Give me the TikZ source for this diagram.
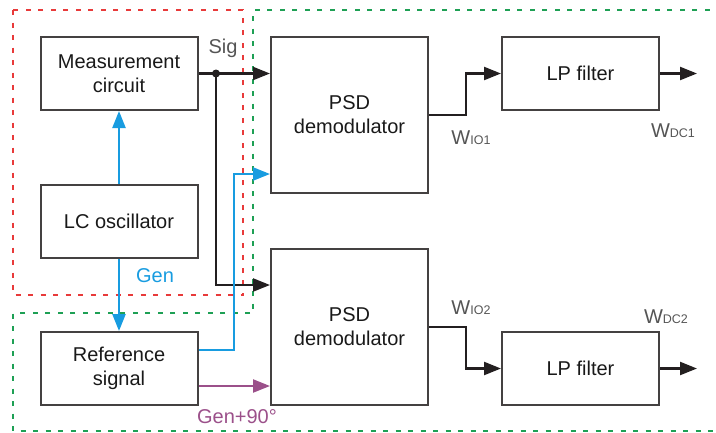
\documentclass[tikz,border=0pt]{standalone}
\usepackage{fontspec}
\setmainfont{Liberation Sans}
\usepackage{tikz}
\usetikzlibrary{arrows.meta,calc,positioning}

\definecolor{zonered}{RGB}{232,58,58}
\definecolor{zonegreen}{RGB}{30,160,85}
\definecolor{genblue}{RGB}{24,156,224}
\definecolor{genpurple}{RGB}{155,80,138}
\definecolor{labelgray}{RGB}{85,85,85}
\definecolor{wire}{RGB}{35,31,32}

\newcommand{\wsub}[1]{W{\fontsize{12.5}{12}\selectfont #1}}

\begin{document}
\begin{tikzpicture}[x=1pt,y=-1pt,line cap=butt,
    line join=miter,
    font=\fontsize{20}{23}\selectfont,
    block/.style={draw=wire!85,line width=2pt,rectangle,
      minimum width=157pt,inner sep=0pt,align=center,text=black!90},
    shortblock/.style={block,minimum height=73pt},
    tallblock/.style={block,minimum height=156pt},
    sigline/.style={draw=wire,line width=2.3pt,
      -{Triangle[length=17pt,width=13pt]}},
    genline/.style={sigline,draw=genblue,
      -{Triangle[length=17pt,width=13pt,fill=genblue]}},
    shiftline/.style={sigline,draw=genpurple,
      -{Triangle[length=17pt,width=13pt,fill=genpurple]}},
    zone/.style={line width=2.2pt,dash pattern=on 5pt off 7.5pt},
    wlabel/.style={text=labelgray}]
    \useasboundingbox (0,0) rectangle (716,432);

    % The two dotted zones behind the blocks.
    \draw[zone,draw=zonered] (13,10) rectangle (243,295);
    \begin{scope}
      \clip (0,0) rectangle (716,432);
      \draw[zone,draw=zonegreen] (722,10) -- (253,10) -- (253,313)
        -- (13,313) -- (13,431) -- (722,431);
    \end{scope}

    % Left column.
    \node[shortblock] (meas) at (119,73.5) {Measurement\\[1pt]circuit};
    \node[shortblock] (lc) at (119,221) {LC oscillator};
    \node[shortblock] (ref) at (119,368.5) {Reference\\[1pt]signal};

    % Demodulators and filters.
    \node[tallblock] (psdA) at (349.5,115) {PSD\\[1pt]demodulator};
    \node[tallblock] (psdB) at (349.5,327) {PSD\\[1pt]demodulator};
    \node[shortblock] (lpA) at (580.5,73.5) {LP filter};
    \node[shortblock] (lpB) at (580.5,368.5) {LP filter};

    % Measured signal to both demodulators.
    \coordinate (sigdot) at (216,73.5);
    \coordinate (sigB) at ($(psdB.north west)+(0,37)$);
    \draw[sigline] (meas.east) -- (meas.east -| psdA.west);
    \draw[sigline] (sigdot) |- (sigB);
    \fill[wire] (sigdot) circle (4pt);
    \node[wlabel] (sig) at (223,48) {Sig};

    % Generator and reference signals.
    \draw[genline] (lc) -- (meas);
    \draw[genline] (lc) -- (ref);
    \node[text=genblue] (gen) at (155,276) {Gen};
    \coordinate (refA) at ($(ref.east)+(0,-18.5)$);
    \coordinate (inA) at ($(psdA.west)+(0,59)$);
    \draw[genline] (refA) -| ($(inA)+(-36,0)$) -- (inA);
    \coordinate (refB) at ($(ref.east)+(0,17.5)$);
    \draw[shiftline] (refB) -- (refB -| psdB.west);
    \node[text=genpurple] (shift) at (237,417) {Gen+90°};

    % Demodulator outputs through the filters.
    \draw[sigline] (psdA.east) -- ++(37,0) |- (lpA.west);
    \draw[sigline] (psdB.east) -- ++(37,0) |- (lpB.west);
    \coordinate[right=37pt of lpA.east] (outA);
    \coordinate[right=37pt of lpB.east] (outB);
    \draw[sigline] (lpA) -- (outA);
    \draw[sigline] (lpB) -- (outB);

    \node[wlabel] (wioA) at (471,138) {\wsub{IO1}};
    \node[wlabel] (wdcA) at (673,131) {\wsub{DC1}};
    \node[wlabel] (wioB) at (471,308) {\wsub{IO2}};
    \node[wlabel] (wdcB) at (666,317) {\wsub{DC2}};
  \end{tikzpicture}
\end{document}
